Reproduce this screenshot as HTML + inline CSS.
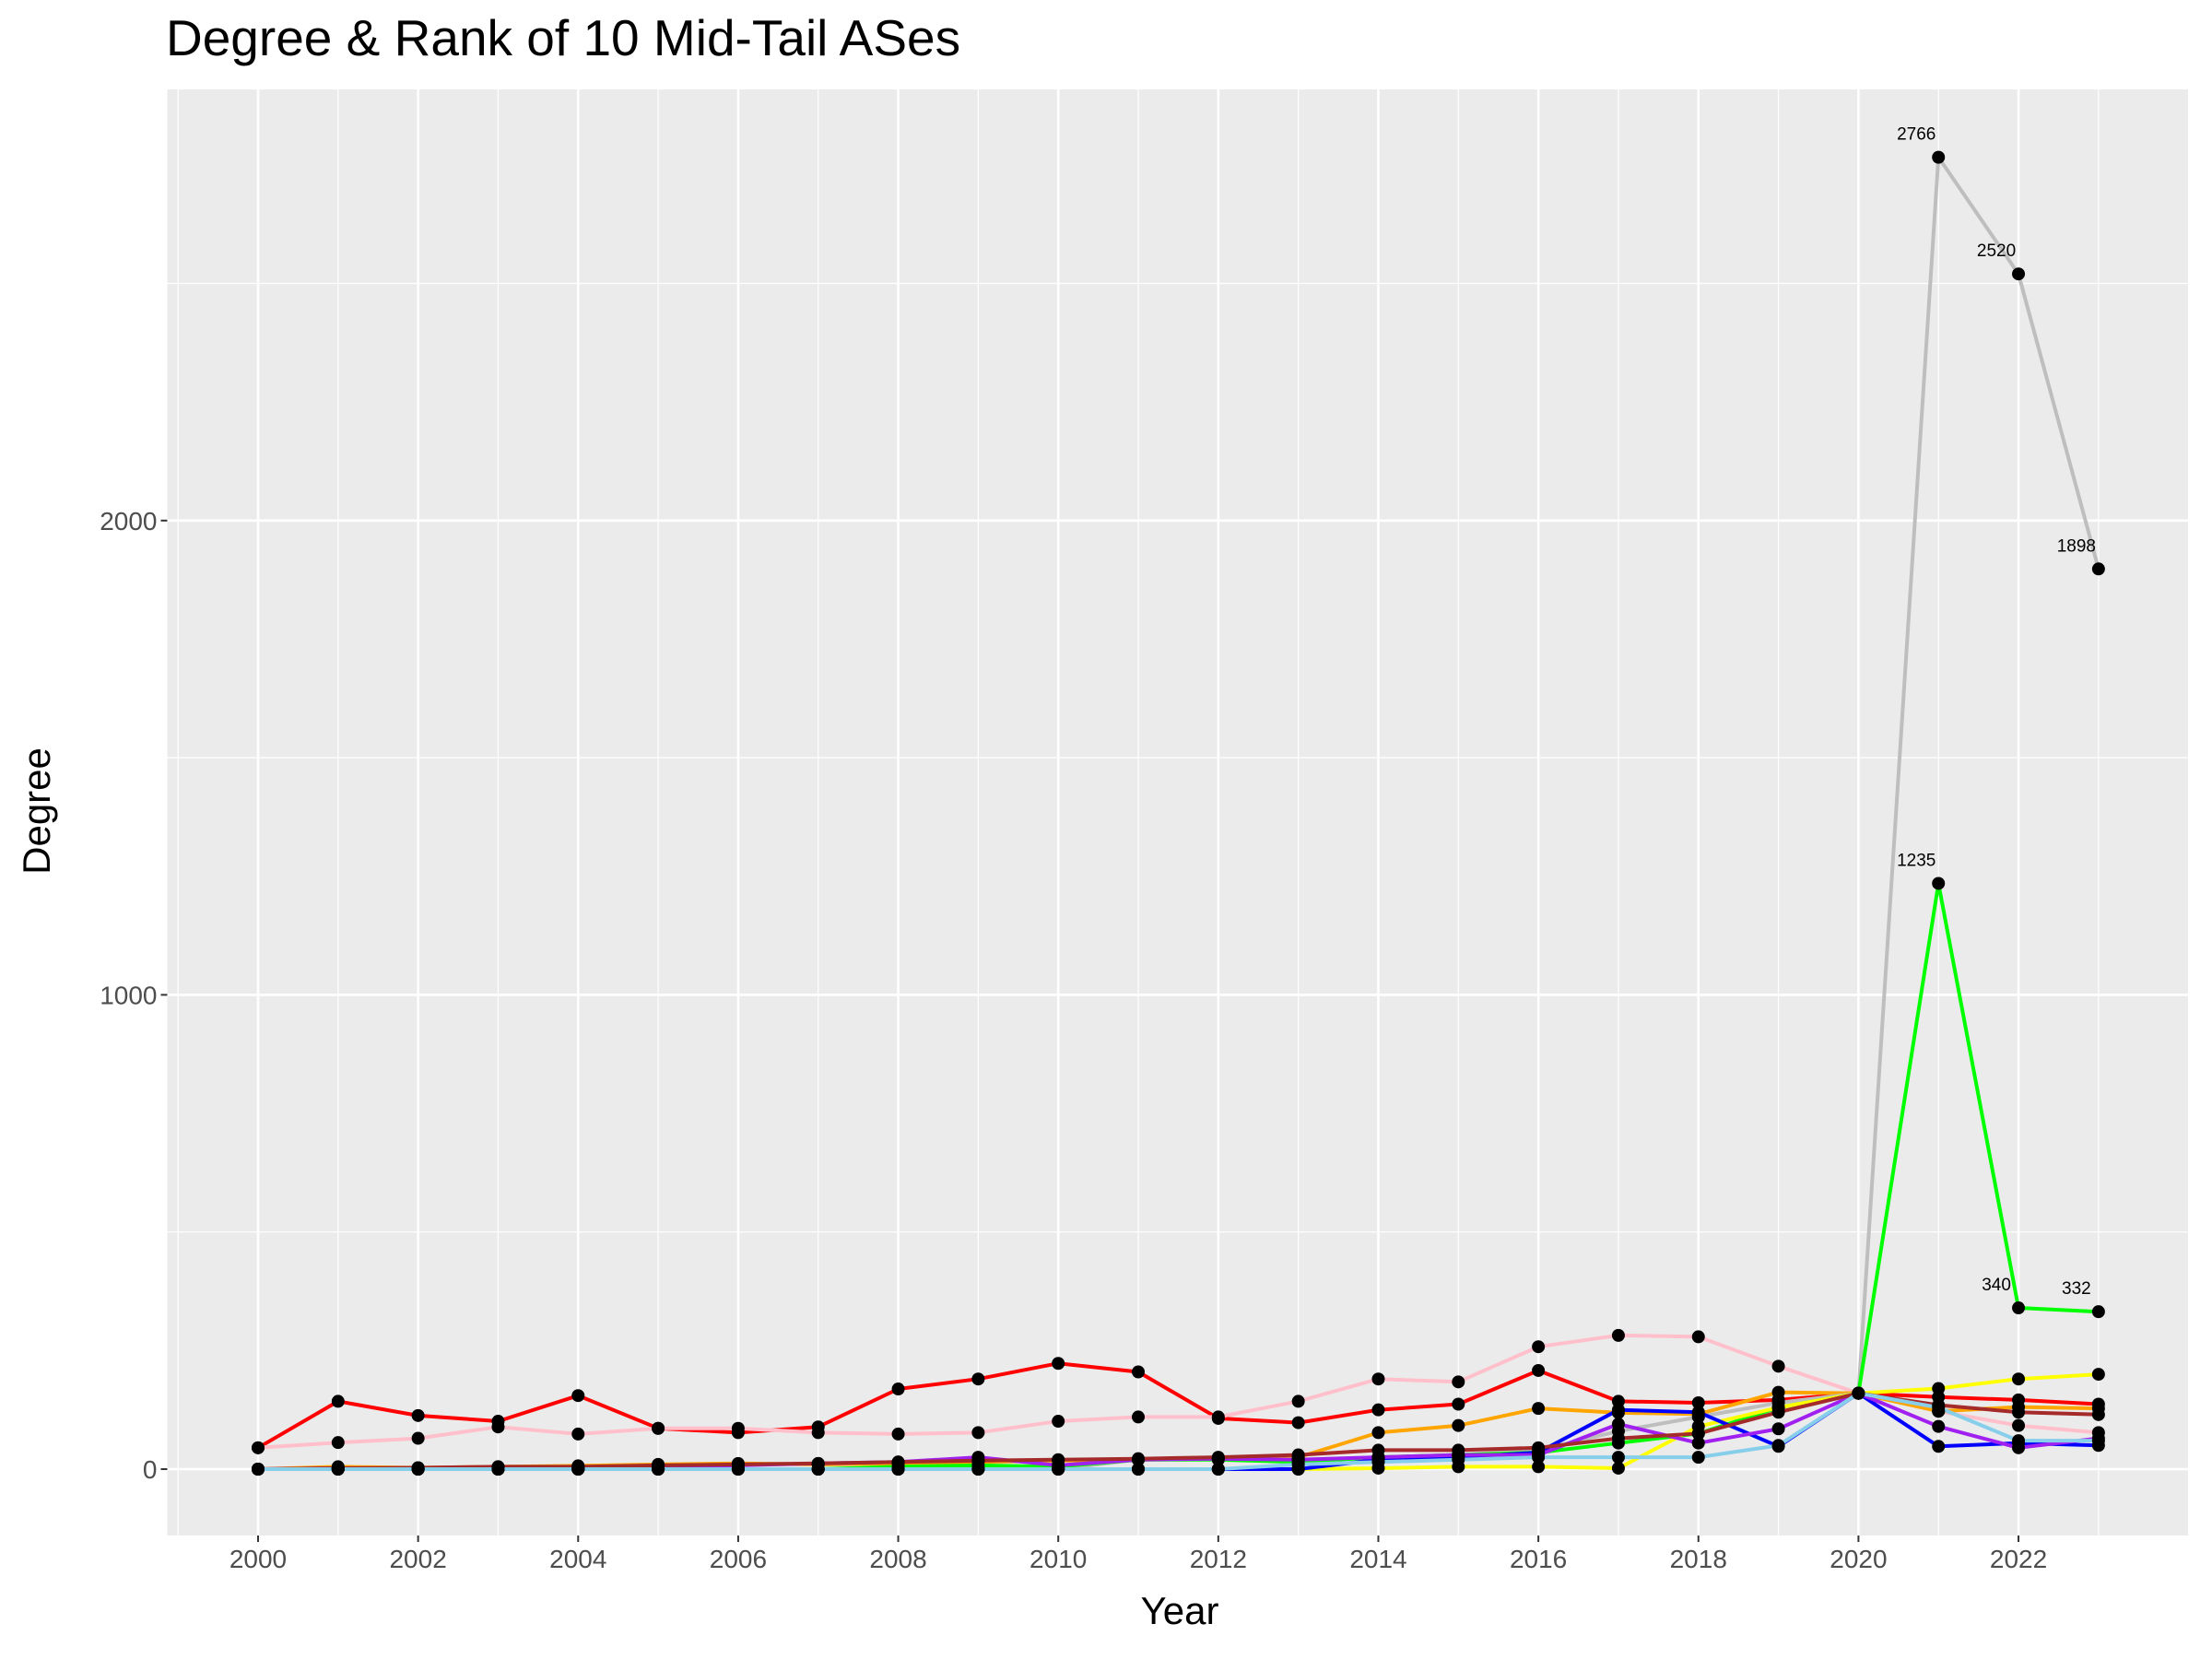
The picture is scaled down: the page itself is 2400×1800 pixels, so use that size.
<!DOCTYPE html>
<html><head><meta charset="utf-8"><style>
html,body{margin:0;padding:0;background:#fff;}
svg{display:block;font-family:"Liberation Sans",Arial,sans-serif;}
</style></head><body>
<svg id="chart" width="2400" height="1800" viewBox="0 0 2400 1800">
<text x="180" y="60" font-size="55" fill="#000">Degree &amp; Rank of 10 Mid-Tail ASes</text>
<rect x="181.5" y="97" width="2192.5" height="1569" fill="#ebebeb"/>
<g id="grid"></g>
<g id="series"></g>
<g id="points"></g>
<g id="labels"></g>
<g id="axes"></g>
<text x="1280" y="1762" font-size="42" text-anchor="middle" fill="#000">Year</text>
<text transform="translate(54,880) rotate(-90)" font-size="42" text-anchor="middle" fill="#000">Degree</text>
</svg>
<script>
const years = [2000,2001,2002,2003,2004,2005,2006,2007,2008,2009,2010,2011,2012,2013,2014,2015,2016,2017,2018,2019,2020,2021,2022,2023];
const seriesColors = ["red","pink","orange","#bebebe","#00ff00","yellow","blue","#a020f0","brown","skyblue"];
const seriesNames = ["as-red","as-pink","as-orange","as-gray","as-green","as-yellow","as-blue","as-purple","as-brown","as-skyblue"];
const redVals = [45,143,113,101,155,86,77,89,169,190,223,205,107,98,125,137,208,143,140,146,160,152,146,137];
const pinkVals = [45,56,65,89,74,86,86,77,74,77,101,110,110,143,190,184,258,282,279,217,160,122,92,77];
const orangeVals = [0,5,3,5,7,10,12,10,12,15,18,20,22,25,77,92,128,119,116,162,160,122,131,128];
const grayVals = [0,0,0,0,0,0,0,0,0,0,0,20,22,20,25,30,40,80,110,140,160,2766,2520,1898];
const greenVals = [0,0,0,0,0,0,0,0,5,8,5,20,20,15,25,30,35,55,75,130,160,1235,340,332];
const yellowVals = [0,0,0,0,0,0,0,0,0,0,0,0,0,0,2,5,5,2,90,130,160,170,190,200];
const blueVals = [0,0,0,0,0,0,0,0,0,0,0,0,0,0,20,25,35,125,120,48,160,48,55,50];
const purpleVals = [0,2,0,0,2,5,8,12,15,25,8,20,22,20,25,30,30,95,55,85,160,90,45,65];
const brownVals = [0,2,3,5,5,8,10,12,15,18,20,22,25,30,40,40,45,65,75,120,160,135,120,115];
const skyVals = [0,0,0,0,0,0,0,0,0,0,0,0,0,10,15,20,25,25,25,50,160,130,60,60];
const allSeries = [redVals,pinkVals,orangeVals,grayVals,greenVals,yellowVals,blueVals,purpleVals,brownVals,skyVals];
const labelSeries = [3,4];
const yTicks = [0,1000,2000];
const yMinor = [500,1500,2500];
const xTicks = [2000,2002,2004,2006,2008,2010,2012,2014,2016,2018,2020,2022];

const NS="http://www.w3.org/2000/svg";
const L=181.5,R=2374,T=97,B=1666;
function xs(yr){return 280+(yr-2000)*86.82;}
function ys(v){return 1594-v*0.5146;}
function mk(tag,attrs,parent){const e=document.createElementNS(NS,tag);for(const k in attrs)e.setAttribute(k,attrs[k]);parent.appendChild(e);return e;}
const grid=document.getElementById('grid'),ser=document.getElementById('series'),pts=document.getElementById('points'),lab=document.getElementById('labels'),ax=document.getElementById('axes');
yMinor.forEach(v=>{const e=mk('line',{x1:L,x2:R,y1:ys(v),y2:ys(v),stroke:'#fff','stroke-width':1.2},grid);

});
for(let yr=1999;yr<=2024;yr++){if(yr%2===1){const e=mk('line',{x1:xs(yr),x2:xs(yr),y1:T,y2:B,stroke:'#fff','stroke-width':1.2},grid);

}}
yTicks.forEach(v=>{const e=mk('line',{x1:L,x2:R,y1:ys(v),y2:ys(v),stroke:'#fff','stroke-width':2.6},grid);


const t=mk('line',{x1:L-7,x2:L,y1:ys(v),y2:ys(v),stroke:'#333','stroke-width':2},ax);


const tx=mk('text',{x:L-11,y:ys(v)+10,'font-size':28,'text-anchor':'end',fill:'#4d4d4d'},ax);tx.textContent=v;

});
xTicks.forEach(yr=>{const e=mk('line',{x1:xs(yr),x2:xs(yr),y1:T,y2:B,stroke:'#fff','stroke-width':2.6},grid);


const t=mk('line',{x1:xs(yr),x2:xs(yr),y1:B,y2:B+7,stroke:'#333','stroke-width':2},ax);


const tx=mk('text',{x:xs(yr),y:B+35,'font-size':28,'text-anchor':'middle',fill:'#4d4d4d'},ax);tx.textContent=yr;

});
allSeries.forEach((vals,i)=>{const d=vals.map((v,j)=>(j?'L':'M')+xs(years[j]).toFixed(1)+','+ys(v).toFixed(1)).join(' ');
const p=mk('path',{d:d,fill:'none',stroke:seriesColors[i],'stroke-width':4,'stroke-linejoin':'round'},ser);

});
allSeries.forEach((vals,i)=>{vals.forEach((v,j)=>{const c=mk('circle',{cx:xs(years[j]),cy:ys(v),r:7,fill:'#000'},pts);

});});
labelSeries.forEach(i=>{const vals=allSeries[i];[21,22,23].forEach(j=>{const t=mk('text',{x:xs(years[j])-24,y:ys(vals[j])-19,'font-size':19,'text-anchor':'middle',fill:'#000'},lab);t.textContent=vals[j];

});});
</script>
</body></html>
